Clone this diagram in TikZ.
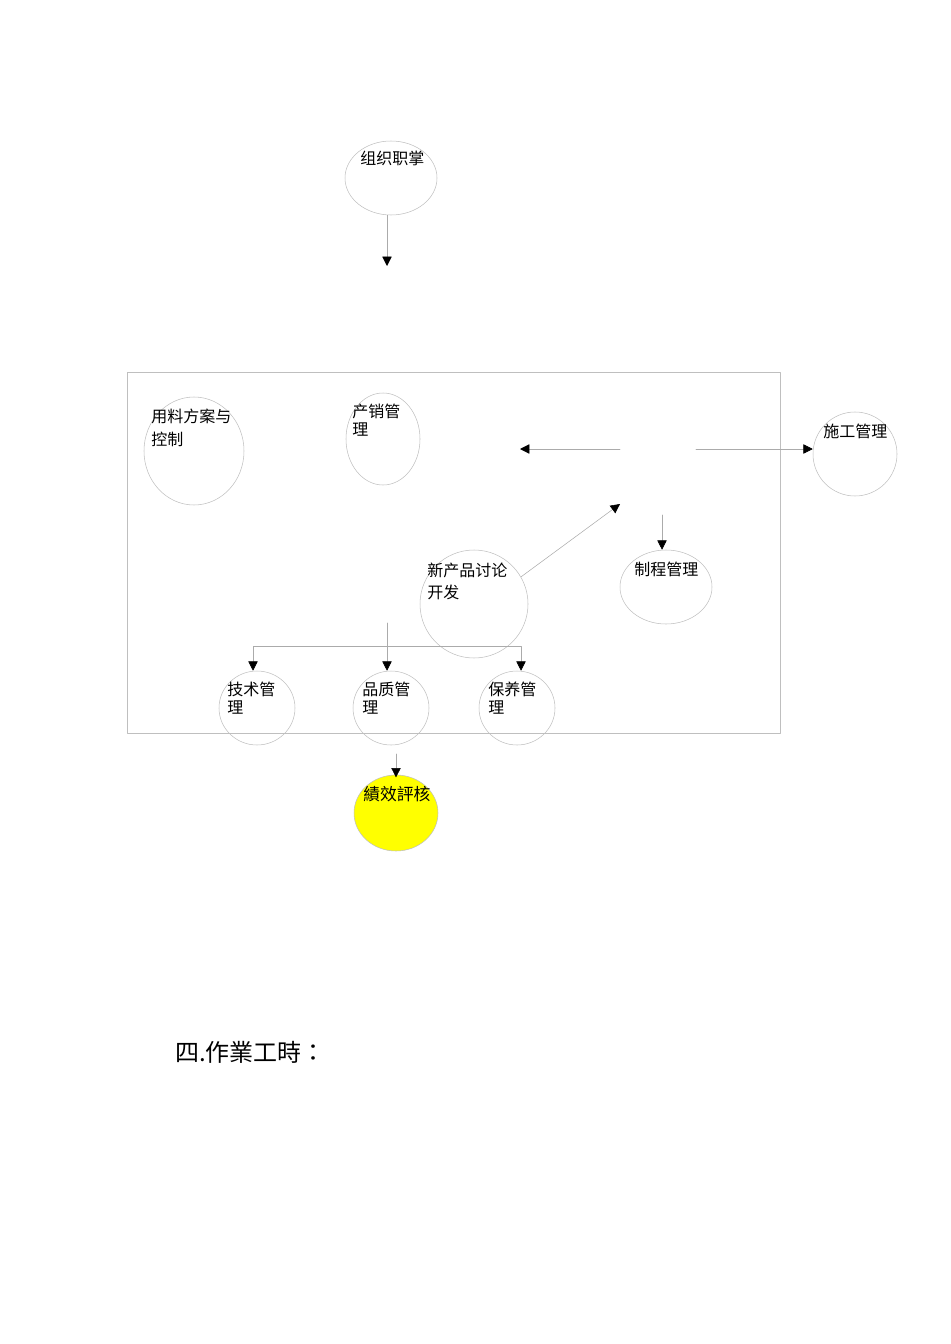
\documentclass[tikz,border=0pt]{standalone}
\usepackage{fontspec}
\newfontfamily\cjksc{Noto Sans CJK SC}
\newfontfamily\cjktc{Noto Sans CJK TC}
\usepackage{tikz}
\usetikzlibrary{arrows.meta}
\usetikzlibrary{shapes.geometric}
\definecolor{bebebe}{rgb}{0.75,0.75,0.75}
\definecolor{aaaaaa}{rgb}{0.67,0.67,0.67}
\definecolor{ffffqq}{rgb}{1.,1.,0.}
\tikzset{
  bubble/.style={ellipse,draw=bebebe,line width=0.4pt,inner sep=0pt},
  lab/.style={anchor=north west,inner sep=0pt,align=left,font=\cjksc\fontsize{12}{17.25}\selectfont},
  labtight/.style={lab,font=\cjksc\fontsize{12}{13.5}\selectfont},
  arr/.style={draw=aaaaaa,line width=0.4pt,-{Triangle[black,width=7pt,length=7pt]}}
}

\begin{document}
\begin{tikzpicture}[line cap=round,line join=round,x=0.75pt,y=-0.75pt]
\useasboundingbox (0,0) rectangle (950,1344);
\draw [color=bebebe,line width=0.5pt] (127,372) rectangle (780,733);
% bubbles
\node [bubble,minimum width=69pt,minimum height=55.5pt] (zuzhi) at (391,178) {};
\node [bubble,minimum width=75pt,minimum height=81pt] (yongliao) at (194,451) {};
\node [bubble,minimum width=55.5pt,minimum height=69pt] (chanxiao) at (383,439) {};
\node [bubble,minimum width=63pt,minimum height=63pt] (shigong) at (855,454) {};
\node [bubble,minimum width=69pt,minimum height=55.5pt] (zhicheng) at (666,587) {};
\node [bubble,minimum width=81pt,minimum height=81pt] (xinchanpin) at (474,604) {};
\node [bubble,minimum width=57pt,minimum height=55.5pt] (jishu) at (257,708) {};
\node [bubble,minimum width=57pt,minimum height=55.5pt] (pinzhi) at (391,708) {};
\node [bubble,minimum width=57pt,minimum height=55.5pt] (baoyang) at (517,708) {};
\node [bubble,fill=ffffqq,minimum width=63pt,minimum height=57pt] (jixiao) at (396,813) {};
% labels
\node [lab] (zuzhi-t) at (360,151) {组织职掌};
\node [lab] (yongliao-t) at (151,409) {用料方案与\\控制};
\node [labtight] (chanxiao-t) at (352,404) {产销管\\理};
\node [lab] (shigong-t) at (823,424) {施工管理};
\node [lab] (zhicheng-t) at (634,562) {制程管理};
\node [lab,font=\cjksc\fontsize{12}{16.5}\selectfont] (xinchanpin-t) at (427,563) {新产品讨论\\开发};
\node [labtight] (jishu-t) at (227,682) {技术管\\理};
\node [labtight] (pinzhi-t) at (362,682) {品质管\\理};
\node [labtight] (baoyang-t) at (488,682) {保养管\\理};
\node [lab,font=\cjktc\fontsize{12.6}{14}\selectfont] (jixiao-t) at (363,786) {績效評核};
\node [anchor=north west,inner sep=0pt,font=\cjktc\fontsize{18}{20}\selectfont] (title) at (175,1041) {四.作業工時：};
% connectors
\coordinate (zz-end) at (387,266);
\draw [arr] (zuzhi.south -| zz-end) -- (zz-end);
\coordinate (hubL) at (620,449);
\coordinate (hubR) at (696,449);
\coordinate (hubSW) at (620,504);
\coordinate (hubS) at (662,515);
\coordinate (left-end) at (520,449);
\draw [arr] (hubL) -- (left-end);
\draw [arr] (hubR) -- (hubR -| shigong.west);
\draw [arr] (xinchanpin.30) -- (hubSW);
\draw [arr] (hubS) -- (hubS |- zhicheng.north);
\coordinate (tree-top) at (387,623);
\coordinate (split) at (387,646);
\draw [arr] (tree-top) -- (tree-top |- pinzhi.north);
\draw [arr] (split) -| ([xshift=-3pt]jishu.north);
\draw [arr] (split) -| ([xshift=3pt]baoyang.north);
\coordinate (pz-out) at (396,754);
\draw [arr] (pz-out) -- ([yshift=-2pt]jixiao.north);
\end{tikzpicture}
\end{document}
